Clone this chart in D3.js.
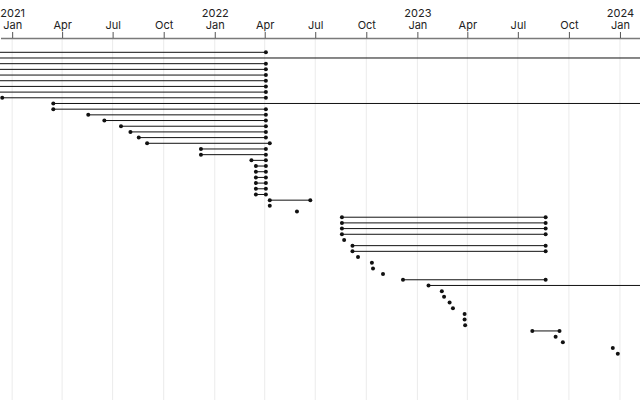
<!DOCTYPE html>
<html>
<head>
<meta charset="utf-8">
<script src="https://cdn.jsdelivr.net/npm/d3@7"></script>
<style>
  body { margin: 0; background: #fff; }
  svg { display: block; font-family: Inter, "DejaVu Sans", sans-serif; }
</style>
</head>
<body>
<div id="chart"></div>
<script>
const width = 640, height = 400;

// one row per interval; null = runs past the edge of the chart
const starts = [
  null, null, null, null, null, null, null, null,
  "2020-12-15", "2021-03-17", "2021-03-17", "2021-05-19", "2021-06-17", "2021-07-17",
  "2021-08-03", "2021-08-18", "2021-09-02", "2021-12-08", "2021-12-08", "2022-03-09",
  "2022-03-17", "2022-03-17", "2022-03-17", "2022-03-17", "2022-03-17", "2022-03-17",
  "2022-04-11", "2022-04-11", "2022-05-30",
  "2022-08-19", "2022-08-19", "2022-08-19", "2022-08-19", "2022-08-23",
  "2022-09-07", "2022-09-07", "2022-09-17", "2022-10-12", "2022-10-14", "2022-11-01",
  "2022-12-07", "2023-01-22", "2023-02-15", "2023-02-19", "2023-03-01", "2023-03-07",
  "2023-03-28", "2023-03-28", "2023-03-29", "2023-07-28", "2023-09-08", "2023-09-21",
  "2023-12-20", "2023-12-29"
];
const ends = [
  "2022-04-04", null, "2022-04-04", "2022-04-04", "2022-04-04", "2022-04-04", "2022-04-04", "2022-04-04",
  "2022-04-04", null, "2022-04-04", "2022-04-04", "2022-04-04", "2022-04-04",
  "2022-04-04", "2022-04-04", "2022-04-11", "2022-04-04", "2022-04-04", "2022-04-04",
  "2022-04-04", "2022-04-04", "2022-04-04", "2022-04-04", "2022-04-04", "2022-04-04",
  "2022-06-23", "2022-04-11", "2022-05-30",
  "2023-08-21", "2023-08-21", "2023-08-21", "2023-08-21", "2022-08-23",
  "2023-08-21", "2023-08-21", "2022-09-17", "2022-10-12", "2022-10-14", "2022-11-01",
  "2023-08-21", null, "2023-02-15", "2023-02-19", "2023-03-01", "2023-03-07",
  "2023-03-28", "2023-03-28", "2023-03-29", "2023-09-15", "2023-09-08", "2023-09-21",
  "2023-12-20", "2023-12-29"
];
const xDomain = ["2020-12-11", "2024-02-07"];

const parse = d3.utcParse("%Y-%m-%d");
const rows = starts.map((s, i) => ({i, start: s && parse(s), end: ends[i] && parse(ends[i])}));

const svg = d3.select("#chart").append("svg")
  .attr("width", width)
  .attr("height", height);

const x = d3.scaleUtc()
  .domain(xDomain.map(parse))
  .range([0, width]);

const y = d3.scalePoint()
  .domain(d3.range(rows.length))
  .range([52.3, 353.7]);

const axisY = 38;
const ticks = x.ticks(d3.utcMonth.every(3));

// vertical grid
svg.append("g")
  .selectAll("line")
  .data(ticks)
  .join("line")
  .attr("x1", d => x(d) + 0.5)
  .attr("x2", d => x(d) + 0.5)
  .attr("y1", axisY)
  .attr("y2", height)
  .attr("stroke", "#ebebeb");

// axis on top, year written above each January
const axis = svg.append("g")
  .attr("transform", `translate(0.5,${axisY})`)
  .call(d3.axisTop(x).tickValues(ticks).tickFormat(d3.utcFormat("%b")).tickSize(6).tickSizeOuter(0).tickPadding(3))
  .attr("font-family", null)
  .attr("font-size", 11);
axis.select(".domain").attr("stroke", "#7a7a7a").attr("stroke-width", 1.5);
axis.selectAll(".tick line").attr("stroke", "#555");
axis.selectAll(".tick text").attr("fill", "#222");
axis.selectAll(".tick")
  .filter(d => d.getUTCMonth() === 0)
  .append("text")
  .attr("y", -21)
  .attr("fill", "#222")
  .attr("text-anchor", "middle")
  .text(d => d.getUTCFullYear());

// intervals
const marks = svg.append("g");
const x0 = x.range()[0] - 5, x1 = x.range()[1] + 5;

marks.selectAll("line")
  .data(rows.filter(d => !d.start || !d.end || +d.start !== +d.end))
  .join("line")
  .attr("x1", d => d.start ? x(d.start) : x0)
  .attr("x2", d => d.end ? x(d.end) : x1)
  .attr("y1", d => y(d.i))
  .attr("y2", d => y(d.i))
  .attr("stroke", "#111")
  .attr("stroke-width", 1);

const dots = rows.flatMap(d => {
  const out = [];
  if (d.start) out.push({i: d.i, t: d.start});
  if (d.end && (!d.start || +d.end !== +d.start)) out.push({i: d.i, t: d.end});
  return out;
});

marks.selectAll("circle")
  .data(dots)
  .join("circle")
  .attr("cx", d => x(d.t))
  .attr("cy", d => y(d.i))
  .attr("r", 2)
  .attr("fill", "#111");
</script>
</body>
</html>
